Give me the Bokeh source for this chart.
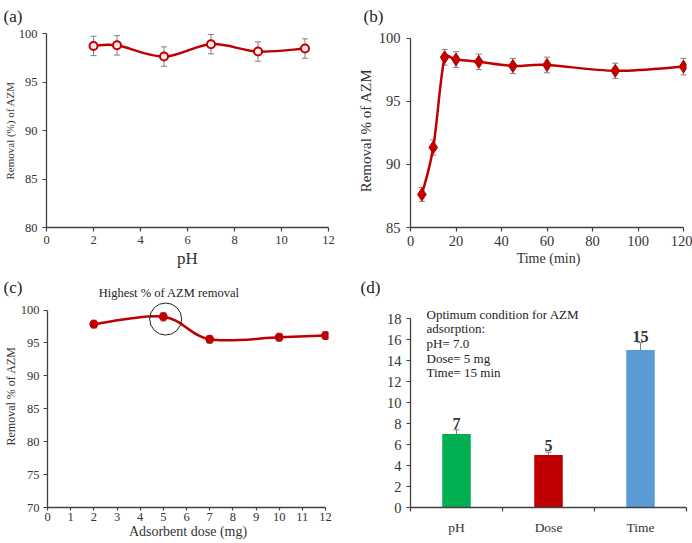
import math
from bokeh.plotting import figure
from bokeh.layouts import row, column
from bokeh.models import (ColumnDataSource, Whisker, TeeHead, Label, LabelSet, FixedTicker,
                          Range1d, Title)
from bokeh.embed import file_html
from bokeh.resources import INLINE

# ---------------- data ----------------
ph = [2, 3, 5, 7, 9, 11]
ph_removal = [98.72, 98.78, 97.62, 98.9, 98.14, 98.45]
ph_err = [1.0, 1.0, 1.0, 1.0, 1.0, 1.0]
ph_xticks = [0, 2, 4, 6, 8, 10, 12]
ph_yticks = [80, 85, 90, 95, 100]

time_min = [5, 10, 15, 20, 30, 45, 60, 90, 120]
time_removal = [87.62, 91.34, 98.48, 98.3, 98.12, 97.79, 97.87, 97.41, 97.74]
time_err = [0.55, 0.6, 0.62, 0.62, 0.62, 0.6, 0.62, 0.6, 0.65]
time_xticks = [0, 20, 40, 60, 80, 100, 120]
time_yticks = [85, 90, 95, 100]

dose = [2, 5, 7, 10, 12]
dose_removal = [97.85, 98.98, 95.55, 95.86, 96.12]
dose_err = [0.6, 0.65, 0.6, 0.6, 0.6]
dose_xticks = [0, 1, 2, 3, 4, 5, 6, 7, 8, 9, 10, 11, 12]
dose_yticks = [70, 75, 80, 85, 90, 95, 100]

categories = ["pH", "Dose", "Time"]
optimum = [7, 5, 15]
optimum_err = [0.4, 0.27, 0.7]
bar_colors = ["#00B050", "#C00000", "#5B9BD5"]
opt_yticks = [0, 2, 4, 6, 8, 10, 12, 14, 16, 18]
box_lines = ["Optimum condition for AZM", "adsorption:", "pH= 7.0", "Dose= 5 mg", "Time= 15 min"]

FONT = "Liberation Serif"
RED = "#C00000"
AXC = "#404040"
TXC = "#333333"
ERRC = "#7F7F7F"

# frame geometry (page pixels); frames of one row / column are aligned by Bokeh
TOP1, BOT1 = 30, 229
TOP2, BOT2 = 284, 507
LEFT1, RIGHT1 = 45, 328
LEFT2, RIGHT2 = 410, 686


def smooth(xs, ys, kx, ky):
    """Excel-like smoothed line: cubic Bezier segments through the points."""
    P = [(x * kx, y * ky) for x, y in zip(xs, ys)]
    n = len(P)
    out = {k: [] for k in ["x0", "y0", "x1", "y1", "cx0", "cy0", "cx1", "cy1"]}
    for i in range(n - 1):
        p0 = P[max(i - 1, 0)]
        p1 = P[i]
        p2 = P[i + 1]
        p3 = P[min(i + 2, n - 1)]
        d12 = math.dist(p1, p2)
        t1 = [(p2[0] - p0[0]) / 6, (p2[1] - p0[1]) / 6]
        t2 = [(p3[0] - p1[0]) / 6, (p3[1] - p1[1]) / 6]
        for t in (t1, t2):
            L = math.hypot(t[0], t[1])
            if L > d12 / 2 and L > 0:
                s = (d12 / 2) / L
                t[0] *= s
                t[1] *= s
        out["x0"].append(p1[0] / kx)
        out["y0"].append(p1[1] / ky)
        out["x1"].append(p2[0] / kx)
        out["y1"].append(p2[1] / ky)
        out["cx0"].append((p1[0] + t1[0]) / kx)
        out["cy0"].append((p1[1] + t1[1]) / ky)
        out["cx1"].append((p2[0] - t2[0]) / kx)
        out["cy1"].append((p2[1] - t2[1]) / ky)
    return out


def style(p, tick_size, xlabel_size, ylabel_size):
    for ax in (p.xaxis, p.yaxis):
        ax.axis_line_color = AXC
        ax.axis_line_width = 1.3
        ax.major_tick_line_color = AXC
        ax.major_tick_line_width = 1.2
        ax.major_tick_in = 0
        ax.major_tick_out = 4
        ax.minor_tick_line_color = None
        ax.major_label_text_font = FONT
        ax.major_label_text_font_size = tick_size
        ax.major_label_text_color = TXC
        ax.major_label_standoff = 4
        ax.axis_label_text_font = FONT
        ax.axis_label_text_font_style = "normal"
        ax.axis_label_text_color = TXC
        ax.axis_label_standoff = 2
    p.xaxis.axis_label_text_font_size = xlabel_size
    p.yaxis.axis_label_text_font_size = ylabel_size
    p.xgrid.visible = False
    p.ygrid.visible = False
    p.outline_line_color = None
    p.background_fill_color = "white"
    p.border_fill_color = "white"


def err_whisker(xs, ys, es):
    src = ColumnDataSource(dict(x=xs, upper=[y + e for y, e in zip(ys, es)],
                                lower=[y - e for y, e in zip(ys, es)]))
    return Whisker(source=src, base="x", upper="upper", lower="lower",
                   line_color=ERRC, line_width=1,
                   upper_head=TeeHead(size=6, line_color=ERRC, line_width=1),
                   lower_head=TeeHead(size=6, line_color=ERRC, line_width=1))


def panel_title(p, text, offset, standoff, valign):
    p.add_layout(Title(text=text, align="left", offset=offset, standoff=standoff,
                       vertical_align=valign, text_font=FONT, text_font_size="17px",
                       text_font_style="normal", text_color="#222222"), "above")


# ---------------- (a) ----------------
pa = figure(width=346, height=270, output_backend="svg", toolbar_location=None,
            x_range=Range1d(0, 12), y_range=Range1d(80, 100),
            min_border_left=LEFT1, min_border_right=346 - RIGHT1,
            min_border_top=TOP1, min_border_bottom=270 - BOT1,
            x_axis_label="pH", y_axis_label="Removal (%) of AZM")
style(pa, "12.5px", "17px", "11px")
pa.yaxis.major_label_standoff = 5
pa.yaxis.axis_label_standoff = 0
pa.xaxis.ticker = FixedTicker(ticks=ph_xticks)
pa.yaxis.ticker = FixedTicker(ticks=ph_yticks)
sa = smooth(ph, ph_removal, (RIGHT1 - LEFT1) / 12, (BOT1 - TOP1) / 20)
pa.bezier(line_color=RED, line_width=2.5, line_cap="round", **sa)
pa.add_layout(err_whisker(ph, ph_removal, ph_err))
pa.scatter(ph, ph_removal, marker="circle", size=8, fill_color="#FFE8E8",
           line_color=RED, line_width=2)
panel_title(pa, "(a)", -43, 12, "top")

# ---------------- (b) ----------------
b_ytop = 100 + (34.7 - TOP1) * 15 / (BOT1 - 34.7)
b_xend = 120 + (RIGHT2 - 683) * 120 / (683 - LEFT2)
pb = figure(width=346, height=270, output_backend="svg", toolbar_location=None,
            x_range=Range1d(0, b_xend), y_range=Range1d(85, b_ytop),
            min_border_left=LEFT2 - 346, min_border_right=692 - RIGHT2,
            min_border_top=TOP1, min_border_bottom=270 - BOT1,
            x_axis_label="Time (min)", y_axis_label="Removal % of AZM")
style(pb, "14.5px", "14px", "15px")
pb.yaxis.major_label_standoff = 6
pb.xaxis.ticker = FixedTicker(ticks=time_xticks)
pb.yaxis.ticker = FixedTicker(ticks=time_yticks)
pb.xaxis.bounds = (0, 120)
pb.yaxis.bounds = (85, 100)
sb = smooth(time_min, time_removal, (683 - LEFT2) / 120, (BOT1 - 34.7) / 15)
pb.bezier(line_color=RED, line_width=2.5, line_cap="round", **sb)
pb.add_layout(err_whisker(time_min, time_removal, time_err))
pb.scatter(time_min, time_removal, marker="diamond", size=13, fill_color=RED,
           line_color=RED, line_width=1)
panel_title(pb, "(b)", -47, 12, "top")

# ---------------- (c) ----------------
c_top100 = 309.5
c_ytop = 100 + (c_top100 - TOP2) * 30 / (BOT2 - c_top100)
c_xend = 12 + (RIGHT1 - 325) * 12 / (325 - LEFT1)
pc = figure(width=346, height=273, output_backend="svg", toolbar_location=None,
            x_range=Range1d(0, c_xend), y_range=Range1d(70, c_ytop),
            min_border_left=LEFT1, min_border_right=346 - RIGHT1,
            min_border_top=TOP2 - 270, min_border_bottom=543 - BOT2,
            x_axis_label="Adsorbent dose (mg)", y_axis_label="Removal % of AZM")
style(pc, "12.5px", "14px", "12px")
pc.yaxis.axis_label_standoff = 0
pc.xaxis.major_tick_out = 3
pc.xaxis.major_label_standoff = 2
pc.xaxis.axis_label_standoff = 0
pc.xaxis.ticker = FixedTicker(ticks=dose_xticks)
pc.yaxis.ticker = FixedTicker(ticks=dose_yticks)
pc.xaxis.bounds = (0, 12)
pc.yaxis.bounds = (70, 100)
kcx, kcy = (325 - LEFT1) / 12, (BOT2 - c_top100) / 30
sc = smooth(dose, dose_removal, kcx, kcy)
pc.bezier(line_color=RED, line_width=2.5, line_cap="round", **sc)
pc.add_layout(err_whisker(dose, dose_removal, dose_err))
pc.scatter(dose, dose_removal, marker="circle", size=8, fill_color=RED,
           line_color=RED, line_width=1)
best = dose_removal.index(max(dose_removal))
pc.scatter([dose[best] + 0.1], [dose_removal[best] - 0.35], marker="circle", size=32,
           fill_color=None, line_color="#222222", line_width=1)
pc.add_layout(Label(x=dose[best] + 0.25, y=100 + 16.8 / kcy, text="Highest % of AZM removal",
                    text_font=FONT, text_font_size="12.5px", text_color="#222222",
                    text_align="center", text_baseline="middle"))
panel_title(pc, "(c)", -44, -24, "bottom")

# ---------------- (d) ----------------
n = len(categories)
xc = [i + 0.5 for i in range(n)]
d_ytop = 18 + (318 - TOP2) * 18 / (BOT2 - 318)
pd_ = figure(width=346, height=273, output_backend="svg", toolbar_location=None,
             x_range=Range1d(0, n), y_range=Range1d(0, d_ytop),
             min_border_left=LEFT2 - 346, min_border_right=692 - RIGHT2,
             min_border_top=TOP2 - 270, min_border_bottom=543 - BOT2)
style(pd_, "14.5px", "13px", "13px")
pd_.yaxis.ticker = FixedTicker(ticks=opt_yticks)
pd_.yaxis.bounds = (0, 18)
pd_.xaxis.ticker = FixedTicker(ticks=xc, minor_ticks=list(range(n + 1)))
pd_.xaxis.major_label_overrides = {x: c for x, c in zip(xc, categories)}
pd_.xaxis.major_label_text_font_size = "13.5px"
pd_.xaxis.major_tick_out = 0
pd_.xaxis.minor_tick_line_color = AXC
pd_.xaxis.minor_tick_line_width = 1.2
pd_.xaxis.minor_tick_in = 0
pd_.xaxis.minor_tick_out = 4
pd_.xaxis.major_label_standoff = 8
pd_.yaxis.major_label_standoff = 5
pd_.vbar(x=xc, top=optimum, width=0.31, fill_color=bar_colors, line_color=None)
pd_.add_layout(err_whisker(xc, optimum, optimum_err))
lab_src = ColumnDataSource(dict(x=xc, y=[v + e for v, e in zip(optimum, optimum_err)],
                                t=[str(v) for v in optimum]))
pd_.add_layout(LabelSet(x="x", y="y", text="t", source=lab_src, y_offset=1,
                        text_font=FONT, text_font_size="16px", text_font_style="bold",
                        text_color="#333333", text_align="center", text_baseline="bottom"))
for i, line in enumerate(box_lines):
    pd_.add_layout(Label(x=426 - LEFT2, y=BOT2 - 306 - 14.7 * i, x_units="screen",
                         y_units="screen", text=line, text_font=FONT,
                         text_font_size="13px", text_color="#222222", text_baseline="top"))
panel_title(pd_, "(d)", -50, -24, "bottom")

layout = column(row(pa, pb), row(pc, pd_))
open("out.html", "w").write(file_html(layout, INLINE))
